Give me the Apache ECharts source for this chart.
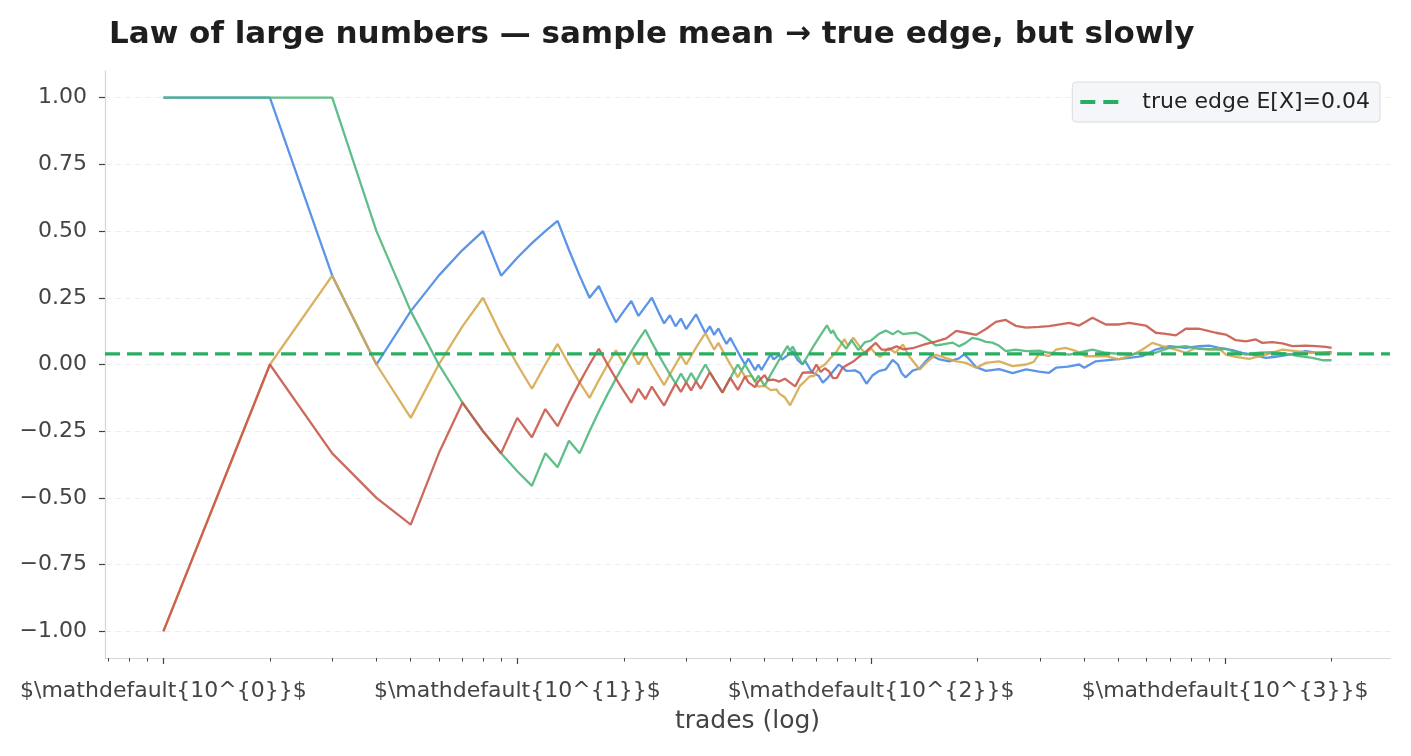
<!DOCTYPE html>
<html lang="en">
<head>
    <meta charset="UTF-8">
    <title>law of large numbers</title>
    <style>
        html, body { margin: 0; padding: 0; background: #fff; }
        #main { width: 1411px; height: 756px; }
    </style>
</head>
<body>
<div id="main"></div>
<script src="https://cdn.jsdelivr.net/npm/echarts@6/dist/echarts.min.js"></script>
<script>

// sample mean after n trades: [n, mean]
const blueMean = [[1,1],[2,1],[3,0.333],[4,0],[5,0.2],[6,0.333],[7,0.429],[8,0.5],[9,0.333],[10,0.4],[11,0.455],[12,0.5],[13,0.538],[14,0.429],[15,0.333],[16,0.25],[17,0.294],[18,0.222],[19,0.158],[20,0.2],[21,0.238],[22,0.182],[23,0.217],[24,0.25],[25,0.2],[26,0.154],[27,0.185],[28,0.143],[29,0.172],[30,0.133],[31,0.161],[32,0.188],[33,0.152],[34,0.118],[35,0.143],[36,0.111],[37,0.135],[38,0.105],[39,0.077],[40,0.1],[41,0.073],[42,0.048],[43,0.023],[44,0],[45,0.022],[46,0],[47,-0.021],[48,0],[49,-0.02],[50,0],[52,0.038],[53,0.019],[55,0.036],[56,0.018],[58,0.034],[60,0.05],[61,0.033],[62,0.016],[64,0],[65,0.015],[66,0],[68,-0.029],[71,-0.042],[73,-0.068],[75,-0.053],[78,-0.026],[81,0],[83,-0.012],[85,-0.024],[88,-0.023],[90,-0.022],[93,-0.032],[97,-0.072],[101,-0.04],[105,-0.025],[110,-0.018],[115,0.017],[119,0],[122,-0.033],[125,-0.048],[131,-0.023],[137,-0.015],[143,0.014],[148,0.034],[156,0.019],[166,0.012],[177,0.023],[183,0.038],[189,0.021],[198,-0.01],[211,-0.024],[230,-0.017],[251,-0.032],[274,-0.018],[298,-0.027],[318,-0.031],[333,-0.012],[360,-0.008],[387,0],[400,-0.012],[431,0.012],[491,0.019],[536,0.025],[584,0.031],[637,0.056],[695,0.069],[774,0.062],[845,0.069],[901,0.071],[962,0.062],[1049,0.054],[1119,0.044],[1194,0.037],[1303,0.025],[1391,0.029],[1516,0.037],[1690,0.05],[1804,0.044],[2000,0.046]];

const greenMean = [[1,1],[2,1],[3,1],[4,0.5],[5,0.2],[6,0],[7,-0.143],[8,-0.25],[9,-0.333],[10,-0.4],[11,-0.455],[12,-0.333],[13,-0.385],[14,-0.286],[15,-0.333],[16,-0.25],[17,-0.176],[18,-0.111],[19,-0.053],[20,0],[21,0.048],[22,0.091],[23,0.13],[24,0.083],[25,0.04],[26,0],[27,-0.037],[28,-0.071],[29,-0.034],[30,-0.067],[31,-0.032],[32,-0.063],[33,-0.03],[34,0],[35,-0.029],[36,-0.056],[37,-0.081],[38,-0.105],[39,-0.077],[40,-0.05],[41,-0.024],[42,0],[43,-0.023],[44,0],[45,-0.022],[46,-0.043],[47,-0.064],[48,-0.042],[49,-0.061],[50,-0.08],[52,-0.038],[54,0],[56,0.036],[58,0.069],[59,0.051],[60,0.067],[62,0.032],[64,0],[66,0.03],[68,0.059],[70,0.086],[72,0.111],[75,0.147],[77,0.117],[78,0.128],[80,0.1],[82,0.085],[85,0.059],[88,0.091],[92,0.054],[96,0.083],[100,0.09],[105,0.114],[110,0.127],[115,0.113],[119,0.126],[123,0.114],[128,0.117],[134,0.119],[140,0.107],[147,0.088],[152,0.072],[159,0.075],[170,0.082],[177,0.068],[185,0.081],[193,0.1],[202,0.094],[211,0.085],[220,0.082],[230,0.07],[240,0.05],[256,0.056],[274,0.05],[298,0.052],[318,0.044],[363,0.037],[422,0.056],[460,0.044],[536,0.037],[584,0.044],[637,0.044],[695,0.062],[774,0.069],[845,0.059],[963,0.056],[1005,0.059],[1049,0.05],[1144,0.037],[1247,0.044],[1360,0.046],[1484,0.041],[1618,0.031],[1765,0.025],[1883,0.016],[2000,0.016]];

const goldMean = [[1,-1],[2,0],[3,0.333],[4,0],[5,-0.2],[6,0],[7,0.143],[8,0.25],[9,0.111],[10,0],[11,-0.091],[12,0],[13,0.077],[14,0],[15,-0.067],[16,-0.125],[17,-0.059],[18,0],[19,0.053],[20,0],[21,0.048],[22,0],[23,0.043],[24,0],[25,-0.04],[26,-0.077],[27,-0.037],[28,0],[29,0.034],[30,0],[31,0.032],[32,0.063],[33,0.091],[34,0.118],[35,0.086],[36,0.056],[37,0.081],[38,0.053],[39,0.026],[40,0],[41,-0.024],[42,-0.048],[43,-0.023],[44,-0.045],[46,-0.043],[47,-0.064],[48,-0.083],[50,-0.08],[52,-0.096],[54,-0.093],[55,-0.109],[57,-0.123],[59,-0.153],[61,-0.115],[63,-0.079],[65,-0.062],[67,-0.045],[69,-0.043],[71,-0.014],[74,0],[77,0.026],[80,0.05],[84,0.095],[86,0.07],[89,0.101],[93,0.065],[96,0.042],[100,0.06],[103,0.04],[106,0.028],[112,0.062],[117,0.044],[123,0.075],[128,0.031],[137,-0.019],[143,0.006],[152,0.037],[162,0.025],[174,0.012],[185,0.006],[198,-0.012],[211,0.006],[230,0.012],[251,-0.006],[274,0],[288,0.01],[298,0.04],[318,0.031],[333,0.056],[354,0.062],[380,0.05],[404,0.031],[460,0.031],[502,0.019],[549,0.037],[584,0.056],[623,0.081],[665,0.069],[726,0.056],[774,0.044],[826,0.062],[901,0.056],[962,0.059],[1005,0.037],[1072,0.029],[1169,0.021],[1303,0.037],[1452,0.056],[1584,0.05],[1727,0.044],[1883,0.044],[2000,0.041]];

const redMean = [[1,-1],[2,0],[3,-0.333],[4,-0.5],[5,-0.6],[6,-0.333],[7,-0.143],[8,-0.25],[9,-0.333],[10,-0.2],[11,-0.273],[12,-0.167],[13,-0.231],[14,-0.143],[15,-0.067],[16,0],[17,0.059],[18,0],[19,-0.053],[20,-0.1],[21,-0.143],[22,-0.091],[23,-0.13],[24,-0.083],[25,-0.12],[26,-0.154],[27,-0.111],[28,-0.071],[29,-0.103],[30,-0.067],[31,-0.097],[32,-0.063],[33,-0.091],[34,-0.059],[35,-0.029],[36,-0.056],[37,-0.081],[38,-0.105],[39,-0.077],[40,-0.05],[41,-0.073],[42,-0.095],[43,-0.07],[44,-0.045],[45,-0.067],[47,-0.085],[48,-0.063],[50,-0.04],[51,-0.059],[53,-0.057],[55,-0.064],[57,-0.053],[59,-0.068],[61,-0.082],[64,-0.031],[66,-0.03],[68,-0.03],[70,0],[72,-0.028],[74,-0.014],[76,-0.026],[78,-0.051],[80,-0.05],[83,-0.012],[86,0],[89,0.011],[93,0.032],[97,0.05],[103,0.081],[107,0.056],[112,0.056],[118,0.068],[123,0.057],[131,0.061],[143,0.077],[152,0.086],[163,0.098],[174,0.126],[185,0.119],[198,0.111],[211,0.133],[225,0.16],[240,0.167],[256,0.145],[274,0.138],[298,0.141],[318,0.144],[363,0.156],[387,0.146],[422,0.175],[460,0.15],[502,0.15],[536,0.156],[597,0.146],[637,0.119],[680,0.115],[726,0.109],[774,0.134],[845,0.134],[901,0.125],[941,0.119],[1005,0.112],[1072,0.091],[1144,0.087],[1221,0.094],[1274,0.081],[1360,0.084],[1452,0.079],[1549,0.069],[1690,0.071],[1804,0.069],[1925,0.066],[2000,0.062]];

const trueEdge = 0.04
const xRange = [0.684, 2924]
const yRange = [-1.1, 1.1]
const majorTicks = [1, 10, 100, 1000]
const minorTicks = [0.7, 0.8, 0.9, 2, 3, 4, 5, 6, 7, 8, 9, 20, 30, 40, 50, 60, 70, 80, 90, 200, 300, 400, 500, 600, 700, 800, 900, 2000]
const yTicks = [-1, -0.75, -0.5, -0.25, 0, 0.25, 0.5, 0.75, 1]

const FONT = 'DejaVu Sans'
const gridBox = {left: 105, right: 21, top: 71, bottom: 98}

let myChart = echarts.init(document.getElementById('main'), null, {renderer: 'canvas'})

function walk(name, data, color) {
    return {
        name: name,
        type: 'line',
        data: data,
        xAxisIndex: 0,
        yAxisIndex: 0,
        symbol: 'none',
        silent: true,
        lineStyle: {color: color, width: 2.3, opacity: 0.9},
        itemStyle: {color: color},
        z: 2
    }
}

let option = {
    animation: false,
    backgroundColor: '#ffffff',
    textStyle: {fontFamily: FONT},
    title: {
        text: 'Law of large numbers \u2014 sample mean \u2192 true edge, but slowly',
        left: 104,
        top: 14,
        textStyle: {fontFamily: FONT, fontSize: 31, fontWeight: 'bold', color: '#1e1e1e'}
    },
    legend: {
        data: [{name: 'true edge E[X]=0.04', icon: 'path://M0,0H15V4H0Z M23,0H38V4H23Z'}],
        right: 31,
        top: 82,
        padding: [9, 10, 9, 8],
        backgroundColor: '#f5f6fa',
        borderColor: '#dcdcdc',
        borderWidth: 1,
        borderRadius: 4,
        itemWidth: 40,
        itemHeight: 4,
        textStyle: {fontFamily: FONT, fontSize: 22, color: '#222', padding: [0, 0, 0, 18]}
    },
    grid: [
        Object.assign({}, gridBox),
        Object.assign({}, gridBox)
    ],
    xAxis: [
        {
            type: 'log',
            logBase: 10,
            gridIndex: 0,
            min: xRange[0],
            max: xRange[1],
            name: 'trades (log)',
            nameLocation: 'middle',
            nameGap: 51,
            nameTextStyle: {fontFamily: FONT, fontSize: 25, color: '#444'},
            axisLine: {show: true, onZero: false, lineStyle: {color: '#d6d6d6', width: 1.2}},
            axisTick: {show: true, customValues: majorTicks, length: 6, lineStyle: {color: '#444', width: 1.2}},
            axisLabel: {
                customValues: majorTicks,
                margin: 22,
                fontFamily: FONT,
                fontSize: 22,
                color: '#444',
                formatter: v => '$\\mathdefault{10^{' + Math.round(Math.log10(v)) + '}}$'
            },
            splitLine: {show: false},
            minorTick: {show: false}
        },
        {
            type: 'log',
            logBase: 10,
            gridIndex: 1,
            min: xRange[0],
            max: xRange[1],
            axisLine: {show: false, onZero: false},
            axisTick: {show: true, customValues: minorTicks, length: 3.5, lineStyle: {color: '#444', width: 1}},
            axisLabel: {show: false},
            splitLine: {show: false}
        }
    ],
    yAxis: [
        {
            type: 'value',
            gridIndex: 0,
            min: yRange[0],
            max: yRange[1],
            axisLine: {show: true, onZero: false, lineStyle: {color: '#d6d6d6', width: 1.2}},
            axisTick: {show: true, customValues: yTicks, length: 6, lineStyle: {color: '#444', width: 1.2}},
            axisLabel: {
                customValues: yTicks,
                margin: 18,
                fontFamily: FONT,
                fontSize: 22,
                color: '#444',
                formatter: v => (v < 0 ? '\u2212' : '') + Math.abs(v).toFixed(2)
            },
            splitLine: {show: true, lineStyle: {color: '#eceef4', type: [6, 4], width: 1}}
        },
        {
            type: 'value',
            gridIndex: 1,
            min: yRange[0],
            max: yRange[1],
            show: false
        }
    ],
    series: [
        walk('walk 1', blueMean, '#4a8ae6'),
        walk('walk 2', goldMean, '#d6a84f'),
        walk('walk 3', greenMean, '#4fb87b'),
        walk('walk 4', redMean, '#c9594d'),
        {
            name: 'true edge E[X]=0.04',
            type: 'line',
            xAxisIndex: 0,
            yAxisIndex: 0,
            data: [[xRange[0], trueEdge], [xRange[1], trueEdge]],
            symbol: 'none',
            silent: true,
            lineStyle: {color: '#27ae60', width: 3.4, type: [15, 7]},
            itemStyle: {color: '#27ae60'},
            z: 5
        }
    ]
}

myChart.setOption(option)

</script>
</body>
</html>
